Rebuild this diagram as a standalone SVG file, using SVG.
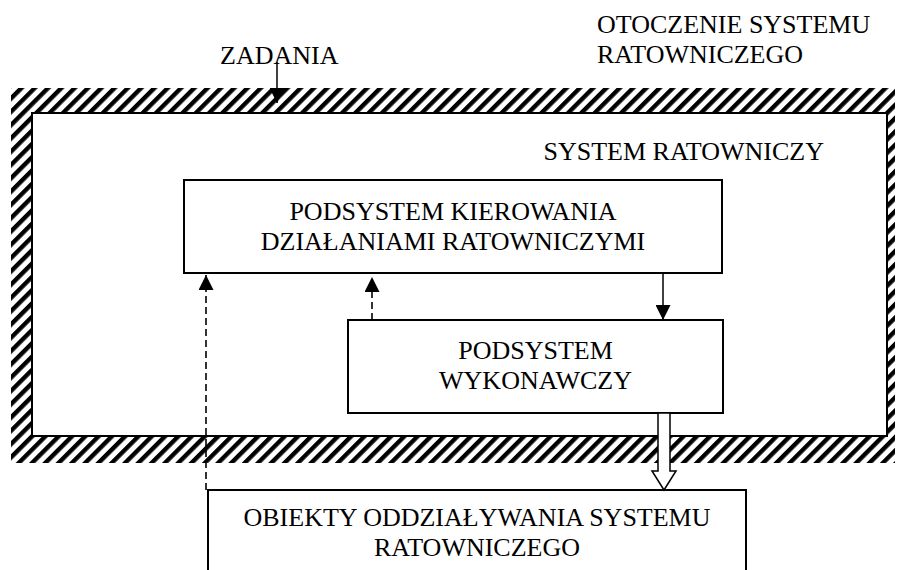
<svg xmlns="http://www.w3.org/2000/svg" width="897" height="570" viewBox="0 0 897 570">
  <style>
    text { font-family: "Liberation Serif", "Times New Roman", serif; font-size: 26px; fill: #000; }
    .mid { text-anchor: middle; }
    .box { fill: #fff; stroke: #000; stroke-width: 2; }
    .solid { stroke: #000; stroke-width: 1.5; fill: none; }
    .dash { stroke: #000; stroke-width: 1.6; fill: none; stroke-dasharray: 7 4; }
  </style>
  <defs>
    <pattern id="hatch" patternUnits="userSpaceOnUse" width="9.4" height="9.4" patternTransform="rotate(45)">
      <rect x="0" y="0" width="9.4" height="9.4" fill="#fff"/>
      <rect x="0" y="0" width="4.4" height="9.4" fill="#000"/>
    </pattern>
    <marker id="headL" viewBox="0 0 15 15" refX="15" refY="7.5" markerWidth="15" markerHeight="15" markerUnits="userSpaceOnUse" orient="auto">
      <path d="M0,0 L15,7.5 L0,15 Z" fill="#000"/>
    </marker>
  </defs>

  <!-- surroundings: hatched band around the system -->
  <g id="otoczenie">
    <rect x="11" y="88" width="884" height="375" fill="url(#hatch)"/>
    <text x="597" y="33">OTOCZENIE SYSTEMU</text>
    <text x="597" y="63">RATOWNICZEGO</text>
  </g>

  <!-- rescue system -->
  <g id="system">
    <rect class="box" x="32" y="113" width="855" height="323"/>
    <text x="824" y="160" text-anchor="end">SYSTEM RATOWNICZY</text>
  </g>

  <g id="zadania">
    <text x="220" y="64">ZADANIA</text>
  </g>

  <g id="kierowanie">
    <rect class="box" x="184" y="180" width="538" height="93"/>
    <text class="mid" x="453" y="220">PODSYSTEM KIEROWANIA</text>
    <text class="mid" x="453" y="250">DZIAŁANIAMI RATOWNICZYMI</text>
  </g>

  <g id="wykonawczy">
    <rect class="box" x="348" y="320" width="375" height="93"/>
    <text class="mid" x="535.5" y="359">PODSYSTEM</text>
    <text class="mid" x="535.5" y="389">WYKONAWCZY</text>
  </g>

  <g id="obiekty">
    <rect class="box" x="208" y="490" width="538" height="100"/>
    <text class="mid" x="477" y="526">OBIEKTY ODDZIAŁYWANIA SYSTEMU</text>
    <text class="mid" x="477" y="556">RATOWNICZEGO</text>
  </g>

  <!-- connectors -->
  <g id="connectors">
    <line class="solid" x1="277" y1="62" x2="277" y2="103" marker-end="url(#headL)"/>
    <line class="solid" x1="663" y1="273" x2="663" y2="320" marker-end="url(#headL)"/>
    <line class="dash" x1="206" y1="490" x2="206" y2="275" marker-end="url(#headL)"/>
    <line class="dash" x1="372" y1="320" x2="372" y2="277" marker-end="url(#headL)"/>
    <path d="M658,413 L670,413 L670,471 L676,471 L664,490 L652,471 L658,471 Z" fill="#fff" stroke="#000" stroke-width="1.5"/>
  </g>
</svg>
